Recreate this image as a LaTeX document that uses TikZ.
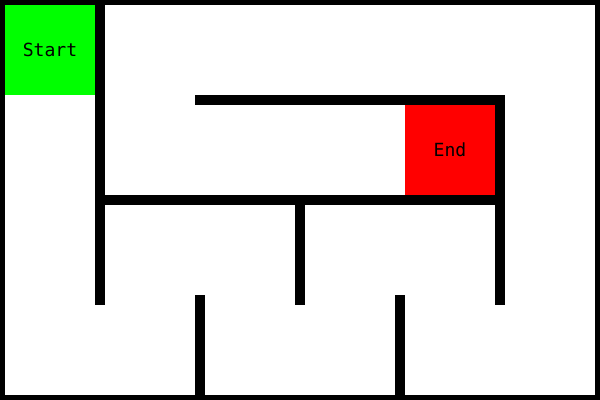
\documentclass[tikz,border=0pt]{standalone}
\usepackage{fontspec}
\setmonofont{DejaVu Sans Mono}
\usepackage{xcolor}
\definecolor{startgreen}{RGB}{0,255,0}
\definecolor{endred}{RGB}{255,0,0}
\tikzset{
    wall/.style={line width=5.7pt, line cap=rect},
    celltext/.style={font=\ttfamily\fontsize{10.3}{12}\selectfont, text=black}
}

\begin{document}
\begin{tikzpicture}[x=2cm,y=2cm]
        \useasboundingbox (0,0) rectangle (6,4);
        % start and end cells
        \fill[startgreen] (0.05,3.05) rectangle (0.95,3.95);
        \fill[endred] (4.05,2.05) rectangle (4.95,2.95);
        \node[celltext] (startcell) at (0.5,3.5) {Start};
        \node[celltext] (endcell) at (4.5,2.5) {End};

        % walls
        \draw[wall] (0,0) rectangle (6,4);
        \foreach \xa/\ya/\xb/\yb in {1/4/1/1, 2/3/5/3, 5/3/5/1, 1/2/5/2, 3/2/3/1, 2/1/2/0, 4/1/4/0} {
            \draw[wall] (\xa,\ya) -- (\xb,\yb);
        }
    \end{tikzpicture}
\end{document}
